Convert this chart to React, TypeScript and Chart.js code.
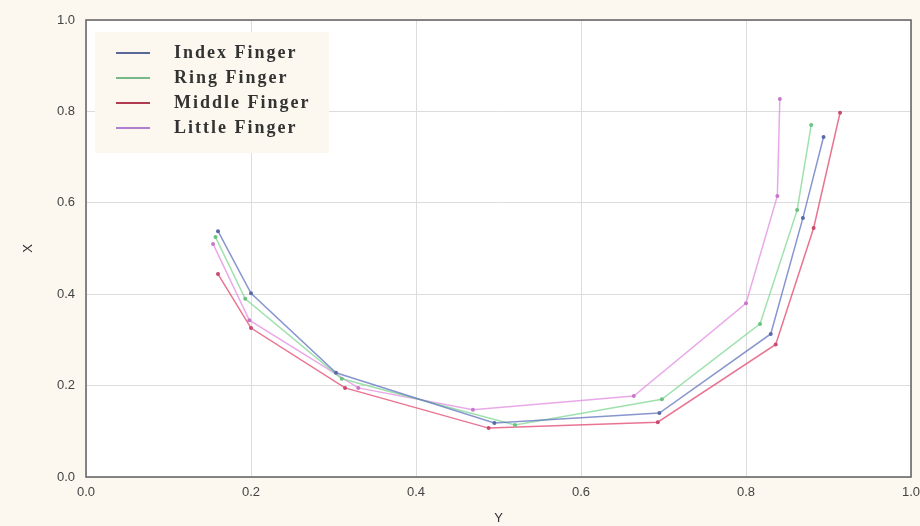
import React, { useEffect, useRef } from "react";
import { Chart, registerables } from "chart.js";

Chart.register(...registerables);

const seriesLabels = ["Index Finger", "Ring Finger", "Middle Finger", "Little Finger"];

const indexX = [0.16, 0.2, 0.303, 0.495, 0.695, 0.83, 0.869, 0.894];
const indexY = [0.538, 0.402, 0.228, 0.118, 0.14, 0.313, 0.567, 0.744];

const ringX = [0.157, 0.193, 0.31, 0.52, 0.698, 0.817, 0.862, 0.879];
const ringY = [0.525, 0.39, 0.215, 0.114, 0.17, 0.335, 0.584, 0.77];

const middleX = [0.16, 0.2, 0.314, 0.488, 0.693, 0.836, 0.882, 0.914];
const middleY = [0.444, 0.326, 0.195, 0.107, 0.12, 0.29, 0.545, 0.797];

const littleX = [0.154, 0.198, 0.33, 0.469, 0.664, 0.8, 0.838, 0.841];
const littleY = [0.51, 0.343, 0.195, 0.147, 0.177, 0.38, 0.615, 0.827];

const axisTicks = [0, 0.2, 0.4, 0.6, 0.8, 1.0];

const lineColors = [
  "rgba(95,115,190,0.75)",
  "rgba(125,215,145,0.75)",
  "rgba(225,70,110,0.75)",
  "rgba(225,140,225,0.75)",
];
const pointColors = ["#5a6aa8", "#6cc080", "#c84a70", "#c878c8"];
const legendColors = ["#5a6898", "#78b888", "#b03a50", "#b080d0"];

const pts = (xs: number[], ys: number[]) => xs.map((x, i) => ({ x, y: ys[i] }));

const bgPlugin = {
  id: "bgPlugin",
  beforeDraw(chart: any) {
    const { ctx, chartArea } = chart;
    ctx.save();
    ctx.fillStyle = "#fcf8ef";
    ctx.fillRect(0, 0, chart.width, chart.height);
    ctx.fillStyle = "#ffffff";
    ctx.fillRect(chartArea.left, chartArea.top, chartArea.right - chartArea.left, chartArea.bottom - chartArea.top);
    ctx.restore();
  },
  afterDraw(chart: any) {
    const { ctx, chartArea } = chart;
    ctx.save();
    ctx.strokeStyle = "#6a6a6a";
    ctx.lineWidth = 1.6;
    ctx.strokeRect(chartArea.left, chartArea.top, chartArea.right - chartArea.left, chartArea.bottom - chartArea.top);
    const bx = chartArea.left + 9;
    const by = chartArea.top + 12;
    const bw = 234;
    const bh = 121;
    ctx.fillStyle = "#fcf8ef";
    ctx.fillRect(bx, by, bw, bh);
    ctx.font = "bold 18px 'Liberation Serif', 'Times New Roman', serif";
    (ctx as any).letterSpacing = "2px";
    ctx.textBaseline = "middle";
    chart.data.datasets.forEach((ds: any, i: number) => {
      const y = by + 21 + i * 25;
      ctx.strokeStyle = legendColors[i];
      ctx.lineWidth = 2;
      ctx.beginPath();
      ctx.moveTo(bx + 21, y);
      ctx.lineTo(bx + 55, y);
      ctx.stroke();
      ctx.fillStyle = "#333333";
      ctx.fillText(ds.label, bx + 79, y);
    });
    ctx.restore();
  },
};

export default function App() {
  const ref = useRef<HTMLCanvasElement>(null);
  useEffect(() => {
    if (!ref.current) return;
    const datasets = [
      pts(indexX, indexY),
      pts(ringX, ringY),
      pts(middleX, middleY),
      pts(littleX, littleY),
    ].map((data, i) => ({
      label: seriesLabels[i],
      data,
      showLine: true,
      borderColor: lineColors[i],
      borderWidth: 1.5,
      backgroundColor: pointColors[i],
      pointBackgroundColor: pointColors[i],
      pointBorderWidth: 0,
      pointRadius: 2,
      tension: 0,
    }));
    const chart = new Chart(ref.current, {
      type: "scatter",
      data: { datasets },
      plugins: [bgPlugin],
      options: {
        animation: false,
        responsive: false,
        layout: { padding: { top: 20, right: 9, left: 0, bottom: 0 } },
        plugins: { legend: { display: false }, tooltip: { enabled: false } },
        scales: {
          x: {
            type: "linear",
            min: 0,
            max: 1,
            afterBuildTicks: (s: any) => {
              s.ticks = axisTicks.map((v) => ({ value: v }));
            },
            afterFit: (s: any) => {
              s.height = 49;
              s.paddingLeft = 0;
              s.paddingRight = 0;
            },
            grid: { color: "#dcdcdc", lineWidth: 1, drawTicks: false },
            border: { display: false },
            ticks: {
              padding: 8,
              color: "#444",
              font: { family: "'Liberation Sans', Arial, sans-serif", size: 13 },
              callback: (v: any) => Number(v).toFixed(1),
            },
            title: {
              display: true,
              text: "Y",
              color: "#333",
              padding: { top: 4, bottom: 0 },
              font: { family: "'Liberation Sans', Arial, sans-serif", size: 13 },
            },
          },
          y: {
            type: "linear",
            min: 0,
            max: 1,
            afterBuildTicks: (s: any) => {
              s.ticks = axisTicks.map((v) => ({ value: v }));
            },
            afterFit: (s: any) => {
              s.width = 86;
              s.paddingTop = 0;
              s.paddingBottom = 0;
            },
            grid: { color: "#dcdcdc", lineWidth: 1, drawTicks: false },
            border: { display: false },
            ticks: {
              padding: 11,
              color: "#444",
              font: { family: "'Liberation Sans', Arial, sans-serif", size: 13 },
              callback: (v: any) => Number(v).toFixed(1),
            },
            title: {
              display: true,
              text: "X",
              color: "#333",
              padding: { top: 21, bottom: 0 },
              font: { family: "'Liberation Sans', Arial, sans-serif", size: 13 },
            },
          },
        },
      },
    });
    return () => chart.destroy();
  }, []);
  return (
    <div style={{ position: "absolute", left: 0, top: 0, width: 920, height: 526 }}>
      <canvas ref={ref} width={920} height={526} style={{ display: "block" }} />
    </div>
  );
}
